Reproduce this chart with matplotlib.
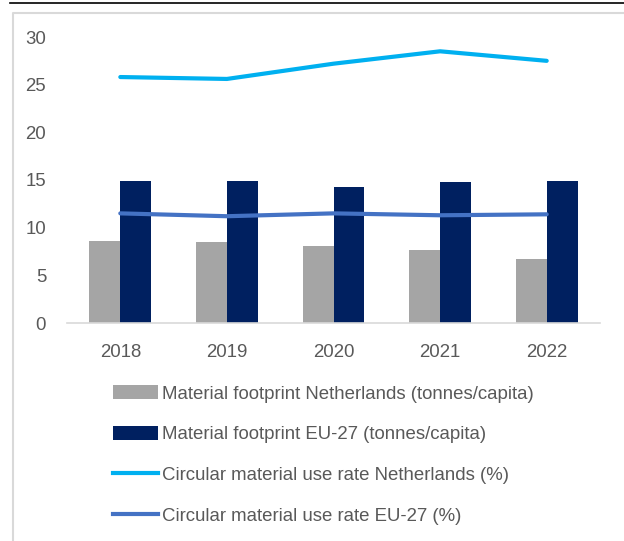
import matplotlib
matplotlib.use("Agg")
import matplotlib.pyplot as plt
import numpy as np
from matplotlib.patches import Patch
from matplotlib.lines import Line2D

years = ["2018", "2019", "2020", "2021", "2022"]
footprint_nl = [8.6, 8.5, 8.1, 7.7, 6.7]
footprint_eu = [14.9, 14.9, 14.3, 14.8, 14.9]
cmu_nl = [25.8, 25.6, 27.2, 28.5, 27.5]
cmu_eu = [11.5, 11.2, 11.5, 11.3, 11.4]
yticks = [0, 5, 10, 15, 20, 25, 30]

labels = ["Material footprint Netherlands (tonnes/capita)",
          "Material footprint EU-27 (tonnes/capita)",
          "Circular material use rate Netherlands (%)",
          "Circular material use rate EU-27 (%)"]

c_gray = "#A5A5A5"
c_navy = "#002060"
c_light = "#00B0F0"
c_blue = "#4472C4"
c_text = "#595959"

plt.rcParams['font.family'] = ['Liberation Sans', 'DejaVu Sans']

W, H = 624, 541
fig = plt.figure(figsize=(W / 100, H / 100), dpi=100)

# outer decorations
fig.add_artist(Line2D([10 / W, 1], [1 - 3 / H, 1 - 3 / H], color="black", lw=1.2))
fig.add_artist(Line2D([13 / W, 13 / W, 1], [0, 1 - 13 / H, 1 - 13 / H], color="#D9D9D9", lw=1.5))

left, right = 67 / W, 600 / W
bottom, top = 1 - 323 / H, 1 - 37 / H
ax = fig.add_axes([left, bottom, right - left, top - bottom])

x = np.arange(len(years))
bw = 0.29
ax.bar(x - bw / 2, footprint_nl, width=bw, color=c_gray, zorder=2)
ax.bar(x + bw / 2, footprint_eu, width=bw, color=c_navy, zorder=2)
ax.plot(x, cmu_nl, color=c_light, lw=3, solid_capstyle="round", zorder=3)
ax.plot(x, cmu_eu, color=c_blue, lw=3, solid_capstyle="round", zorder=3)

ax.set_xlim(-0.5, len(years) - 0.5)
ax.set_ylim(0, 30)
ax.set_yticks(yticks)
ax.set_xticks(x)
ax.set_xticklabels(years)
for s in ["top", "right", "left"]:
    ax.spines[s].set_visible(False)
ax.spines["bottom"].set_color("#D9D9D9")
ax.spines["bottom"].set_linewidth(1.2)
ax.tick_params(axis="both", length=0, labelsize=13.4, colors=c_text)
ax.tick_params(axis="y", pad=15)
ax.tick_params(axis="x", pad=15)

handles = [Patch(facecolor=c_gray, edgecolor="none"),
           Patch(facecolor=c_navy, edgecolor="none"),
           Line2D([], [], color=c_light, lw=3),
           Line2D([], [], color=c_blue, lw=3)]
leg = fig.legend(handles, labels, loc="upper left",
                 bbox_to_anchor=(113 / W, 1 - 385 / H),
                 frameon=False, fontsize=13.4, labelspacing=1.25,
                 handlelength=2.4, handleheight=0.8, handletextpad=0.22,
                 borderaxespad=0, borderpad=0)
for t in leg.get_texts():
    t.set_color(c_text)

fig.savefig("out.png", dpi=100)
